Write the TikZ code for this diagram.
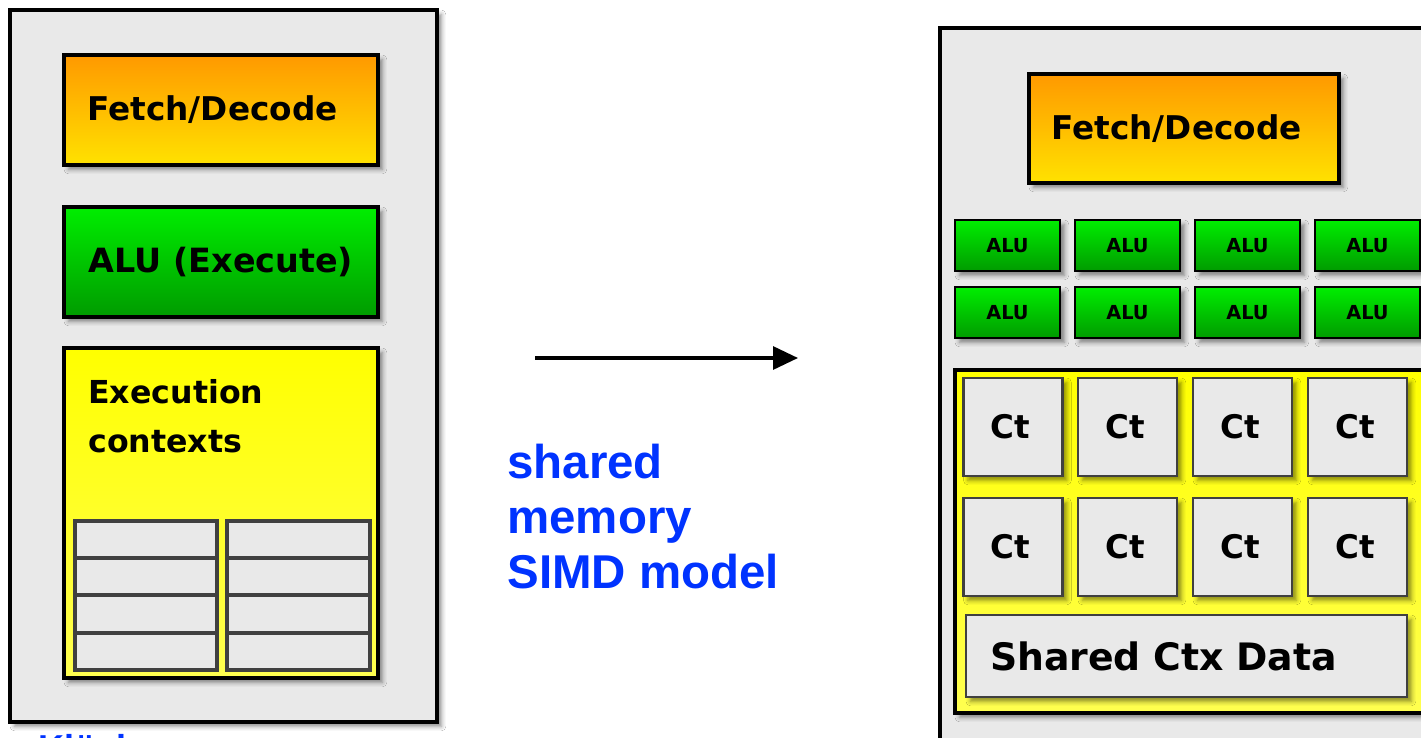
\documentclass[tikz,border=0pt]{standalone}
\usepackage{fontspec}
\setmainfont{DejaVu Sans}
\newfontfamily\bluefont{Liberation Sans}
\usetikzlibrary{arrows.meta, shadows.blur}
\definecolor{simd_gray}{RGB}{233, 233, 233}
\definecolor{simd_cell}{RGB}{64, 64, 64}
\definecolor{simd_orange}{RGB}{255, 153, 0}
\definecolor{simd_amber}{RGB}{255, 226, 0}
\definecolor{simd_green}{RGB}{0, 238, 0}
\definecolor{simd_dgreen}{RGB}{0, 155, 0}
\definecolor{simd_yellow}{RGB}{255, 255, 0}
\definecolor{simd_lyellow}{RGB}{255, 255, 80}
\definecolor{simd_blue}{RGB}{0, 51, 255}

\begin{document}
\begin{tikzpicture}[
        shad/.style={blur shadow={shadow xshift=2.5pt, shadow yshift=-2.5pt,
                     shadow blur radius=2.5pt, shadow opacity=45}},
        core/.style={draw=black, fill=simd_gray, line width=2.2pt, shad},
        fetch/.style={draw=black, line width=2pt, shad,
                      top color=simd_orange, bottom color=simd_amber,
                      align=left, inner xsep=0.47cm, text width=5.34cm,
                      font=\fontsize{18.6}{22}\selectfont\bfseries},
        alu/.style={draw=black, line width=2pt, shad,
                    top color=simd_green, bottom color=simd_dgreen,
                    font=\fontsize{19}{22}\selectfont\bfseries},
        minialu/.style={alu, line width=1.6pt, minimum width=2.1cm,
                        minimum height=1.02cm, inner sep=0pt,
                        font=\fontsize{11}{13}\selectfont\bfseries},
        ctx/.style={draw=black, line width=2pt, shad,
                    top color=simd_yellow, bottom color=simd_lyellow},
        slot/.style={draw=simd_cell, fill=simd_gray, line width=2.3pt,
                     minimum width=2.85cm, minimum height=0.745cm, inner sep=0pt},
        ct/.style={draw=simd_cell, fill=simd_gray, line width=1.6pt, shad,
                   minimum width=1.98cm, minimum height=1.96cm, inner sep=0pt,
                   font=\fontsize{18.5}{22}\selectfont\bfseries},
        note/.style={simd_blue, inner sep=0pt, align=left,
                     font=\bluefont\bfseries\fontsize{27}{31.5}\selectfont},
      ]
        \useasboundingbox (0,0) rectangle (28.42,-14.74);
        \fill[white] (0,0) rectangle (28.42,-14.74);
        \clip (0,0) rectangle (28.42,-14.74);

        % one core
        \node[core, minimum width=8.54cm, minimum height=14.24cm] (core1) at (4.47,-7.32) {};
        \node[fetch, minimum height=2.2cm] (fd1) at (4.42,-2.2) {Fetch/Decode};
        \node[alu, minimum width=6.28cm, minimum height=2.2cm] (alu1) at (4.42,-5.24) {ALU (Execute)};
        \node[ctx, minimum width=6.28cm, minimum height=6.6cm] (ctx1) at (4.42,-10.26) {};
        \node[anchor=north west, inner sep=0pt, align=left,
              font=\fontsize{18}{28}\selectfont\bfseries] (ctxtext) at (1.76,-7.58) {Execution\\contexts};
        \foreach \c/\x in {1/2.92, 2/5.97}
          \foreach \r/\y in {1/-10.79, 2/-11.54, 3/-12.28, 4/-13.03}
            \node[slot] (s\c\r) at (\x, \y) {};

        % arrow and caption
        \coordinate (from) at (10.7,-7.16);
        \coordinate (to) at (15.96,-7.16);
        \draw[-{Triangle[length=0.5cm, width=0.46cm]}, line width=1.8pt] (from) -- (to);
        \node[note, anchor=north west] (model) at (10.14,-8.87) {shared\\memory\\SIMD model};
        \node[simd_blue, anchor=base west, inner sep=0pt,
              font=\bluefont\bfseries\fontsize{20.5}{24}\selectfont] (credit) at (0.16,-15.2) {s Klöckner};

        % SIMD core
        \node[core, line width=1.8pt, minimum width=10.8cm, minimum height=15.24cm] (core2) at (24.2,-8.18) {};
        \node[fetch, minimum height=2.18cm, text width=5.3cm, inner xsep=0.45cm] (fd2) at (23.68,-2.57) {Fetch/Decode};
        \foreach \c/\x in {1/20.15, 2/22.55, 3/24.95, 4/27.35}
          \foreach \r/\y in {1/-4.91, 2/-6.25}
            \node[minialu] (a\r\c) at (\x, \y) {ALU};
        \node[ctx, minimum width=9.7cm, minimum height=6.86cm] (ctx2) at (23.95,-10.83) {};
        \foreach \c/\x in {1/20.26, 2/22.55, 3/24.85, 4/27.15}
          \foreach \r/\y in {1/-8.54, 2/-10.94}
            \node[ct] (ct\r\c) at (\x, \y) {Ct\hspace*{0.1cm}};
        \node[ct, minimum width=8.82cm, minimum height=1.64cm, text width=7.86cm,
              inner xsep=0.48cm, align=left, font=\fontsize{21.5}{24}\selectfont\bfseries]
              (shared) at (23.73,-13.12) {Shared Ctx Data};
      \end{tikzpicture}
\end{document}
